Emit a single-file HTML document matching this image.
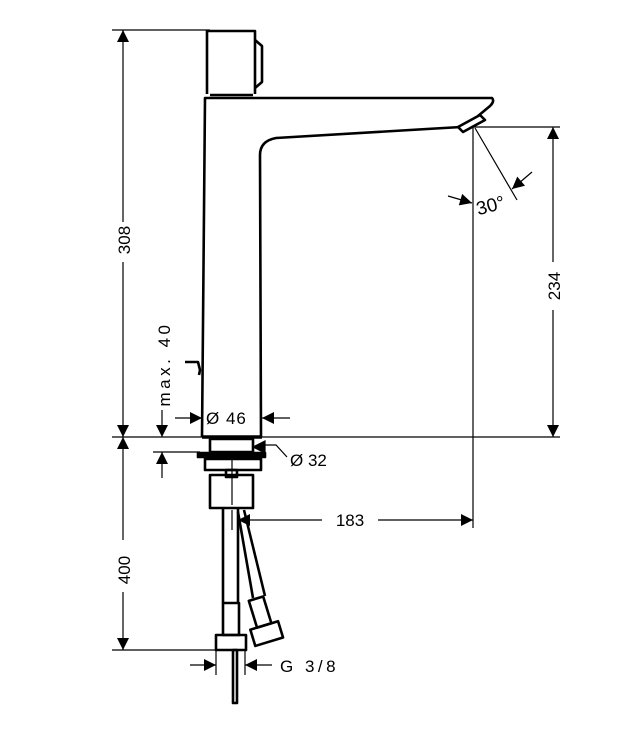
<!DOCTYPE html>
<html><head><meta charset="utf-8"><style>
html,body{margin:0;padding:0;background:#fff;}
svg{display:block;}
text{font-family:"Liberation Sans",sans-serif;fill:#000;}
</style></head><body>
<svg width="625" height="734" viewBox="0 0 625 734" xmlns="http://www.w3.org/2000/svg">
<defs>
<marker id="a" viewBox="0 0 10 10" refX="10" refY="5" markerWidth="13" markerHeight="12" markerUnits="userSpaceOnUse" orient="auto"><path d="M0,0 L10,5 L0,10 z" fill="#000"/></marker>
</defs>
<g stroke="#000" fill="none">
<g stroke-width="1.2">
<line x1="112" y1="30" x2="210" y2="30"/>
<line x1="112" y1="437" x2="560" y2="437"/>
<line x1="112" y1="650" x2="225" y2="650"/>
<line x1="473" y1="127" x2="560" y2="127"/>
<line x1="473" y1="127" x2="473" y2="528"/>
<line x1="153" y1="452" x2="200" y2="452"/>
<line x1="123" y1="222" x2="123" y2="30" marker-end="url(#a)"/>
<line x1="123" y1="262" x2="123" y2="437" marker-end="url(#a)"/>
<line x1="123" y1="540" x2="123" y2="437" marker-end="url(#a)"/>
<line x1="123" y1="592" x2="123" y2="650" marker-end="url(#a)"/>
<line x1="553" y1="262" x2="553" y2="127" marker-end="url(#a)"/>
<line x1="553" y1="310" x2="553" y2="437" marker-end="url(#a)"/>
<line x1="162" y1="410" x2="162" y2="437" marker-end="url(#a)"/>
<line x1="162" y1="478" x2="162" y2="452" marker-end="url(#a)"/>
<line x1="175" y1="418" x2="202" y2="418" marker-end="url(#a)"/>
<line x1="290" y1="418" x2="262" y2="418" marker-end="url(#a)"/>
<polyline points="287,457 276,445 264,445"/>
<path d="M253,447 L265,441 L265,453 z" fill="#000"/>
<line x1="322" y1="520" x2="238" y2="520" marker-end="url(#a)"/>
<line x1="378" y1="520" x2="473" y2="520" marker-end="url(#a)"/>
<line x1="232" y1="510" x2="232" y2="530"/>
<line x1="190" y1="665" x2="216" y2="665" marker-end="url(#a)"/>
<line x1="272" y1="665" x2="245" y2="665" marker-end="url(#a)"/>
<line x1="216" y1="650" x2="216" y2="675"/>
<line x1="245" y1="650" x2="245" y2="675"/>
<line x1="475" y1="128" x2="517" y2="200"/>
<line x1="448" y1="196" x2="472" y2="203" marker-end="url(#a)"/>
<line x1="532" y1="172" x2="512" y2="189" marker-end="url(#a)"/>
<line x1="232" y1="455" x2="232" y2="505"/>
</g>
<g stroke-width="2.6" stroke-linejoin="round">
<path d="M207,94 L207,31 L255,31 L255,94"/>
<path d="M255,40 L262,46 L262,82 L255,88"/>
<line x1="210" y1="95" x2="253" y2="95"/>
<path d="M202,437 L205,98 L492,98 Q495,101 490,106 L478,116"/>
<path d="M461,127 L276,138 Q260,141 260,155 L261,437"/>
<line x1="202" y1="437" x2="262" y2="437" stroke-width="3.5"/>
<path d="M458,127 L480,115 L485,120 L463,132 z" fill="#fff"/>
<path d="M185,362 L198,362 L200,370 L199,375"/>
<rect x="210" y="439" width="43" height="13"/>
<rect x="198" y="453" width="67" height="4" fill="#000"/>
<rect x="205" y="459" width="56" height="11"/>
<rect x="226" y="470" width="11" height="7"/>
<rect x="210" y="475" width="43" height="33"/>
<line x1="223" y1="508" x2="223" y2="603"/>
<line x1="238" y1="508" x2="238" y2="603"/>
<rect x="223" y="603" width="16" height="32"/>
<rect x="216" y="635" width="30" height="15"/>
<rect x="233" y="650" width="4" height="53"/>
<line x1="238" y1="512" x2="253" y2="598"/>
<line x1="244" y1="510" x2="265" y2="596"/>
<g transform="rotate(-17 260 610)">
<rect x="252" y="598" width="15" height="28"/>
<rect x="245" y="626" width="29" height="17"/>
</g>
</g>
</g>
<g font-size="17">
<text transform="translate(130,240) rotate(-90)" text-anchor="middle">308</text>
<text transform="translate(130,570) rotate(-90)" text-anchor="middle">400</text>
<text transform="translate(560,286) rotate(-90)" text-anchor="middle">234</text>
<text transform="translate(170,364) rotate(-90)" text-anchor="middle" letter-spacing="3.5">max. 40</text>
<text x="206" y="424" letter-spacing="1">Ø  46</text>
<text x="290" y="466">Ø 32</text>
<text x="350" y="526" text-anchor="middle">183</text>
<text x="280" y="672" letter-spacing="3.5">G 3/8</text>
<text x="476" y="212" font-size="19" transform="rotate(-15 490 205)">30°</text>
</g>
</svg>
</body></html>
